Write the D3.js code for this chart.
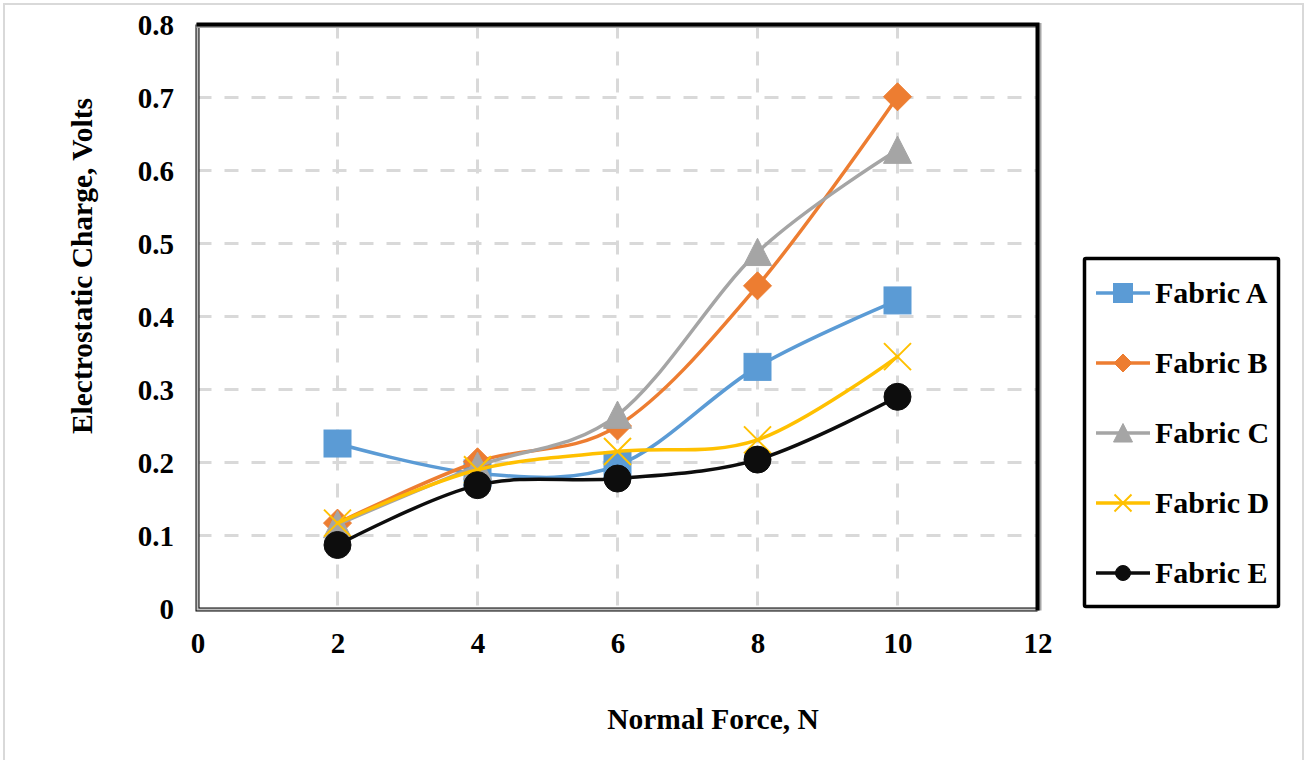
<!DOCTYPE html>
<html>
<head>
<meta charset="utf-8">
<script src="https://cdn.jsdelivr.net/npm/d3@7"></script>
<style>
  html, body { margin: 0; padding: 0; background: #fff; }
  svg { display: block; }
  text { font-family: "Liberation Serif", "Times New Roman", serif; font-weight: bold; fill: #000; }
</style>
</head>
<body>
<svg id="chart" width="1307" height="760"></svg>
<script>
// ---- data ----
const forces = [2, 4, 6, 8, 10];
const fabricA = [0.226, 0.185, 0.196, 0.331, 0.422];
const fabricB = [0.117, 0.201, 0.250, 0.442, 0.701];
const fabricC = [0.115, 0.195, 0.265, 0.488, 0.628];
const fabricD = [0.117, 0.190, 0.215, 0.231, 0.345];
const fabricE = [0.087, 0.169, 0.178, 0.204, 0.290];
const seriesNames = ["Fabric A", "Fabric B", "Fabric C", "Fabric D", "Fabric E"];
const seriesColors = ["#5b9bd5", "#ed7d31", "#a5a5a5", "#ffc000", "#0d0d0d"];
const seriesMarkers = ["square", "diamond", "triangle", "cross", "circle"];
const xTicks = [0, 2, 4, 6, 8, 10, 12];
const yTicks = [0, 0.1, 0.2, 0.3, 0.4, 0.5, 0.6, 0.7, 0.8];
const xTitle = "Normal Force, N";
const yTitle = "Electrostatic Charge, Volts";

const allValues = [fabricA, fabricB, fabricC, fabricD, fabricE];

const svg = d3.select("#chart");
const pL = 197.5, pR = 1037.5, pT = 24.5, pB = 608.5;
const x = d3.scaleLinear().domain([0, 12]).range([pL, pR]);
const y = d3.scaleLinear().domain([0, 0.8]).range([pB, pT]);

// outer chart border
svg.append("rect").attr("x", 4).attr("y", 4).attr("width", 1299).attr("height", 800)
  .attr("fill", "none").attr("stroke", "#d9d9d9").attr("stroke-width", 2);

// gridlines
const grid = svg.append("g");
grid.selectAll("line.v").data(xTicks.filter(d => d > 0 && d < 12)).join("line").attr("class", "v")
  .attr("x1", d => x(d)).attr("x2", d => x(d)).attr("y1", pT).attr("y2", pB)
  .attr("stroke", "#d9d9d9").attr("stroke-width", 3).attr("stroke-dasharray", "14,13");
grid.selectAll("line.h").data(yTicks.filter(d => d > 0 && d < 0.8)).join("line").attr("class", "h")
  .attr("x1", pL).attr("x2", pR).attr("y1", d => y(d)).attr("y2", d => y(d))
  .attr("stroke", "#d9d9d9").attr("stroke-width", 3).attr("stroke-dasharray", "14,13");

// frame: left & bottom (inset style), top & right (thick black)
const frame = svg.append("g");
frame.append("path").attr("d", `M${pL},${pT} L${pL},${pB + 1} L${pR},${pB + 1}`)
  .attr("fill", "none").attr("stroke", "#000").attr("stroke-width", 4);
frame.append("path").attr("d", `M${pL},${pT} L${pL},${pB + 1} L${pR},${pB + 1}`)
  .attr("fill", "none").attr("stroke", "#c0c0c0").attr("stroke-width", 2);
frame.append("path").attr("d", `M${pL - 1},${pT + 1} L${pR + 1.5},${pT + 1} L${pR + 1.5},${pB + 2}`)
  .attr("fill", "none").attr("stroke", "#a6a6a6").attr("stroke-width", 5);
frame.append("path").attr("d", `M${pL - 1},${pT} L${pR},${pT} L${pR},${pB + 2}`)
  .attr("fill", "none").attr("stroke", "#000").attr("stroke-width", 4);

// axes (labels only)
const fmt = d3.format("~g");
const xAxis = svg.append("g").attr("transform", `translate(0,${pB})`)
  .call(d3.axisBottom(x).tickValues(xTicks).tickFormat(fmt).tickSize(0).tickPadding(0));
xAxis.select(".domain").remove();
xAxis.selectAll("text").attr("y", 44).attr("dy", null).attr("fill", "#000")
  .style("font-size", "29px").style("font-family", "'Liberation Serif', serif").style("font-weight", "bold");

const yAxis = svg.append("g").attr("transform", `translate(174,0)`)
  .call(d3.axisLeft(y).tickValues(yTicks).tickFormat(fmt).tickSize(0).tickPadding(0));
yAxis.select(".domain").remove();
yAxis.selectAll("text").attr("x", 0).attr("dy", "0.34em").attr("fill", "#000")
  .style("font-size", "29px").style("font-family", "'Liberation Serif', serif").style("font-weight", "bold");

// axis titles
svg.append("text").attr("x", 713).attr("y", 729).attr("text-anchor", "middle")
  .style("font-size", "29.5px").text(xTitle);
svg.append("text").attr("transform", "translate(92,266) rotate(-90)").attr("text-anchor", "middle")
  .style("font-size", "29.5px").text(yTitle);

// marker drawing
function drawMarker(g, type, cx, cy, s, color) {
  if (type === "square") {
    g.append("rect").attr("x", cx - s / 2).attr("y", cy - s / 2).attr("width", s).attr("height", s)
      .attr("fill", color).attr("stroke", color).attr("stroke-width", 1);
  } else if (type === "diamond") {
    const h = s / 2;
    g.append("path").attr("d", `M${cx},${cy - h} L${cx + h},${cy} L${cx},${cy + h} L${cx - h},${cy} Z`)
      .attr("fill", color).attr("stroke", color).attr("stroke-width", 1);
  } else if (type === "triangle") {
    const h = s / 2;
    g.append("path").attr("d", `M${cx},${cy - h} L${cx + h},${cy + h * 0.95} L${cx - h},${cy + h * 0.95} Z`)
      .attr("fill", color).attr("stroke", color).attr("stroke-width", 1);
  } else if (type === "circle") {
    g.append("circle").attr("cx", cx).attr("cy", cy).attr("r", s / 2)
      .attr("fill", color).attr("stroke", color).attr("stroke-width", 1);
  } else if (type === "cross") {
    const h = s / 2;
    g.append("path").attr("d", `M${cx - h},${cy - h} L${cx + h},${cy + h} M${cx - h},${cy + h} L${cx + h},${cy - h}`)
      .attr("fill", "none").attr("stroke", color).attr("stroke-width", 2);
  }
}

// series
const line = d3.line().x(d => x(d[0])).y(d => y(d[1])).curve(d3.curveCatmullRom.alpha(0));
const markerSizes = { square: 27, diamond: 28, triangle: 28, circle: 27, cross: 27 };
allValues.forEach((vals, i) => {
  const pts = forces.map((f, j) => [f, vals[j]]);
  const g = svg.append("g");
  g.append("path").attr("d", line(pts)).attr("fill", "none")
    .attr("stroke", seriesColors[i]).attr("stroke-width", 3.5).attr("stroke-linejoin", "round").attr("stroke-linecap", "round");
  pts.forEach(p => drawMarker(g, seriesMarkers[i], x(p[0]), y(p[1]), markerSizes[seriesMarkers[i]], seriesColors[i]));
});

// legend
const lg = svg.append("g");
lg.append("rect").attr("x", 1084.5).attr("y", 258.5).attr("width", 194).attr("height", 348)
  .attr("fill", "#fff").attr("stroke", "#000").attr("stroke-width", 3.5).attr("rx", 1.5);
const legendSizes = { square: 19, diamond: 18, triangle: 19, circle: 15, cross: 17 };
seriesNames.forEach((name, i) => {
  const cy = 293 + i * 70;
  lg.append("line").attr("x1", 1096).attr("x2", 1150).attr("y1", cy).attr("y2", cy)
    .attr("stroke", seriesColors[i]).attr("stroke-width", 3.5);
  drawMarker(lg, seriesMarkers[i], 1123, cy, legendSizes[seriesMarkers[i]], seriesColors[i]);
  lg.append("text").attr("x", 1155).attr("y", cy + 10).style("font-size", "30px").text(name);
});
</script>
</body>
</html>
